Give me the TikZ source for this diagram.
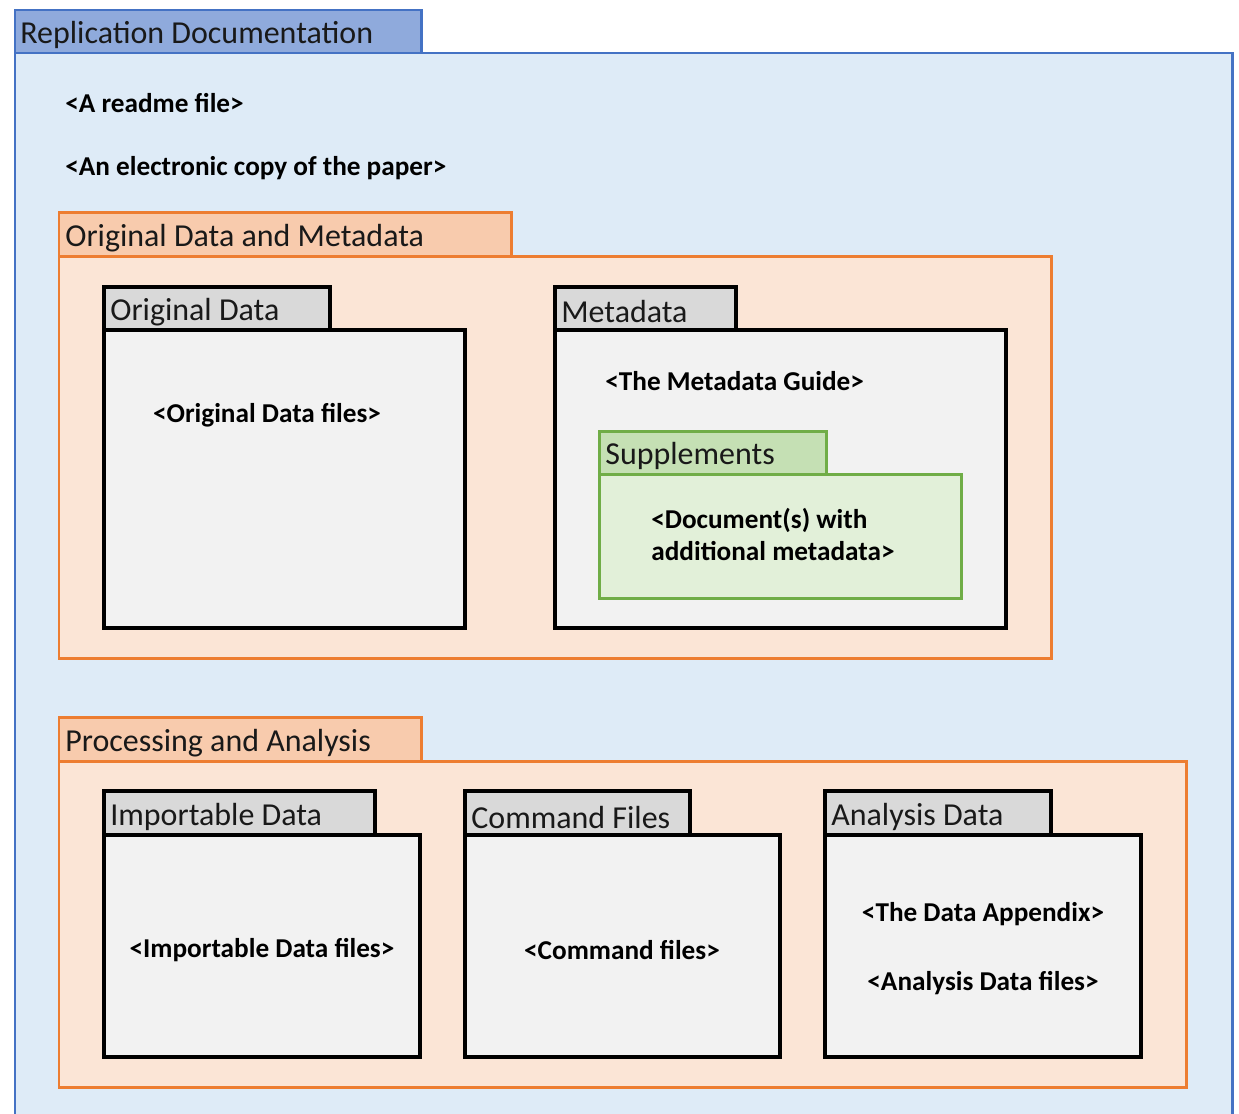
\documentclass[tikz,border=0pt]{standalone}
\usepackage{fontspec}
\setmainfont{Carlito}
\usetikzlibrary{positioning}
\definecolor{bluline}{RGB}{68,114,196}
\definecolor{blutabf}{RGB}{143,170,220}
\definecolor{blubodf}{RGB}{222,235,247}
\definecolor{orgline}{RGB}{237,125,49}
\definecolor{orgtabf}{RGB}{248,203,173}
\definecolor{orgbodf}{RGB}{251,229,214}
\definecolor{grntabf}{RGB}{197,224,180}
\definecolor{grnbodf}{RGB}{226,240,217}
\definecolor{grnline}{RGB}{112,173,71}
\definecolor{gratabf}{RGB}{217,217,217}
\definecolor{grabodf}{RGB}{242,242,242}
\tikzset{
  blubox/.style={draw=bluline, line width=1.7pt},
  orgbox/.style={draw=orgline, line width=1.7pt},
  grnbox/.style={draw=grnline, line width=1.7pt},
  grabox/.style={draw=black, line width=2pt},
  tablbl/.style={anchor=west, inner sep=0pt, font=\fontsize{18.2}{20}\selectfont, text=black!90},
  itemtxt/.style={inner sep=0pt, font=\fontsize{15.5}{18}\selectfont\bfseries, align=left},
}

\begin{document}
\begin{tikzpicture}[x=0.02cm, y=-0.02cm]
  \useasboundingbox (0,0) rectangle (1239,1113);
  \clip (0,0) rectangle (1239,1113);
  % outer folder
  \draw[blubox, fill=blubodf] (15,53) rectangle (1232,1140);
  \draw[blubox, fill=blutabf] (15,10) rectangle (421,53);
  \node[tablbl] (repl) at (20,35) {Replication Documentation};
  \node[itemtxt, anchor=west] (readme) at (65,103) {<A readme file>};
  \node[itemtxt, anchor=west] (paper) at (65,168) {<An electronic copy of the paper>};

  % original data and metadata
  \draw[orgbox, fill=orgbodf] (59,256) rectangle (1051,658);
  \draw[orgbox, fill=orgtabf] (59,212) rectangle (511,256);
  \node[tablbl] (odm) at (65,238) {Original Data and Metadata};

  \draw[grabox, fill=grabodf] (104,330) rectangle (465,628);
  \draw[grabox, fill=gratabf] (104,287) rectangle (330,330);
  \node[tablbl] (orig) at (110,312) {Original Data};
  \node[itemtxt] (origfiles) at (267,415) {<Original Data files>};

  \draw[grabox, fill=grabodf] (555,330) rectangle (1006,628);
  \draw[grabox, fill=gratabf] (555,287) rectangle (736,330);
  \node[tablbl] (meta) at (561,312) {Metadata};
  \node[itemtxt, anchor=west] (guide) at (605,381) {<The Metadata Guide>};

  \draw[grnbox, fill=grnbodf] (599,474) rectangle (961,598);
  \draw[grnbox, fill=grntabf] (599,431) rectangle (826,474);
  \node[tablbl] (supp) at (605,456) {Supplements};
  \node[itemtxt, anchor=north west] (suppdocs) at (651,508)
       {<Document(s) with\\additional metadata>};

  % processing and analysis
  \draw[orgbox, fill=orgbodf] (59,761) rectangle (1186,1087);
  \draw[orgbox, fill=orgtabf] (59,717) rectangle (421,761);
  \node[tablbl] (proc) at (65,743) {Processing and Analysis};

  \draw[grabox, fill=grabodf] (104,835) rectangle (420,1057);
  \draw[grabox, fill=gratabf] (104,791) rectangle (375,835);
  \node[tablbl] (impt) at (110,817) {Importable Data};
  \node[itemtxt] (imptfiles) at (262,950) {<Importable Data files>};

  \draw[grabox, fill=grabodf] (465,835) rectangle (780,1057);
  \draw[grabox, fill=gratabf] (465,791) rectangle (690,835);
  \node[tablbl] (cmd) at (471,817) {Command Files};
  \node[itemtxt] (cmdfiles) at (622,950) {<Command files>};

  \draw[grabox, fill=grabodf] (825,835) rectangle (1141,1057);
  \draw[grabox, fill=gratabf] (825,791) rectangle (1051,835);
  \node[tablbl] (anly) at (831,817) {Analysis Data};
  \node[itemtxt] (appx) at (983,914) {<The Data Appendix>};
  \node[itemtxt] (anlyfiles) at (983,983) {<Analysis Data files>};
\end{tikzpicture}
\end{document}
